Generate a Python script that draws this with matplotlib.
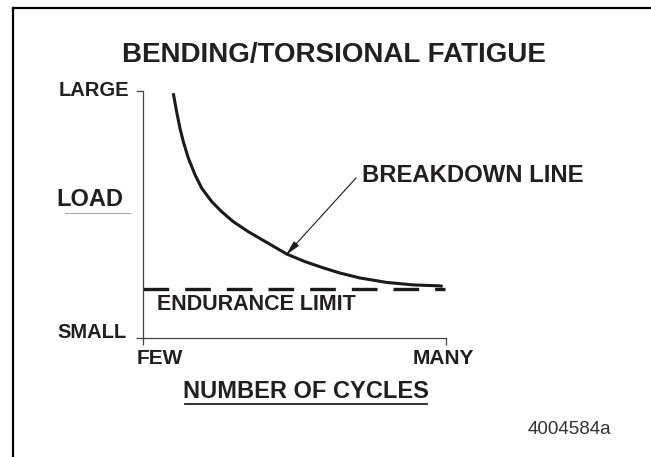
import matplotlib
matplotlib.use("Agg")
import matplotlib.pyplot as plt
from matplotlib.lines import Line2D

plt.rcParams['font.family'] = ['Liberation Sans', 'DejaVu Sans']
plt.rcParams['lines.scale_dashes'] = False

# data (0 = few/small, 1 = many/large)
curve_x = [0.100, 0.111, 0.122, 0.133, 0.150, 0.172, 0.194, 0.227, 0.260, 0.298,
           0.348, 0.414, 0.474, 0.535, 0.595, 0.650, 0.716, 0.804, 0.892, 0.980, 0.989]
curve_y = [0.991, 0.916, 0.849, 0.795, 0.727, 0.660, 0.606, 0.552, 0.511, 0.471,
           0.430, 0.383, 0.340, 0.309, 0.284, 0.263, 0.243, 0.225, 0.215, 0.211, 0.209]
endurance_limit = 0.198
endurance_x = [0.0, 0.997]
x_ticks = [0, 1]
x_tick_labels = ["FEW", "MANY"]
y_ticks = [0, 1]
y_tick_labels = ["SMALL", "LARGE"]

W, H = 651, 457
fig = plt.figure(figsize=(W / 100, H / 100), dpi=100)

def fx(px):
    return px / W

def fy(py):
    return 1 - py / H

ax = fig.add_axes([fx(143), fy(338), fx(446) - fx(143), fy(91) - fy(338)])
ax.set_xlim(0, 1)
ax.set_ylim(0, 1)
for s in ["top", "right"]:
    ax.spines[s].set_visible(False)
for s in ["left", "bottom"]:
    ax.spines[s].set_linewidth(0.9)
    ax.spines[s].set_color("#444444")
ax.set_xticks(x_ticks)
ax.set_yticks(y_ticks)
ax.set_xticklabels([])
ax.set_yticklabels([])
ax.tick_params(length=5, width=0.9, color="#444444")

ax.plot(curve_x, curve_y, color="#1a1a1a", lw=2.2, solid_capstyle="butt",
        solid_joinstyle="round", clip_on=False)
ax.plot(endurance_x, [endurance_limit, endurance_limit], color="#1a1a1a", lw=2.4,
        dashes=(18.5, 11.5), clip_on=False)

ax.annotate("", xy=(fx(286), fy(255)), xycoords="figure fraction",
            xytext=(fx(356), fy(178)), textcoords="figure fraction",
            arrowprops=dict(arrowstyle="-|>,head_length=0.9,head_width=0.2",
                            color="#1a1a1a", lw=0.8, shrinkA=0, shrinkB=0))

bold = dict(fontweight="bold", color="#231f20")
fig.text(fx(334), fy(55), "BENDING/TORSIONAL FATIGUE", ha="center", va="center", fontsize=20, **bold)
fig.text(fx(129), fy(90), y_tick_labels[1], ha="right", va="center", fontsize=14.5, **bold)
fig.text(fx(127), fy(333), y_tick_labels[0], ha="right", va="center", fontsize=14.5, **bold)
fig.text(fx(90), fy(200), "LOAD", ha="center", va="center", fontsize=17, **bold)
fig.add_artist(Line2D([fx(65), fx(130)], [fy(213), fy(213)], color="#aaaaaa", lw=0.8))
fig.text(fx(160), fy(358), x_tick_labels[0], ha="center", va="center", fontsize=15, **bold)
fig.text(fx(443), fy(358), x_tick_labels[1], ha="center", va="center", fontsize=15, **bold)
fig.text(fx(306), fy(391), "NUMBER OF CYCLES", ha="center", va="center", fontsize=17, **bold)
fig.add_artist(Line2D([fx(185), fx(427)], [fy(404), fy(404)], color="#231f20", lw=1.3))
fig.text(fx(362), fy(176), "BREAKDOWN LINE", ha="left", va="center", fontsize=17.2, **bold)
fig.text(fx(157), fy(305), "ENDURANCE LIMIT", ha="left", va="center", fontsize=15.5, **bold)
fig.text(fx(569), fy(430), "4004584a", ha="center", va="center", fontsize=13.5, color="#333333")

# frame
fig.add_artist(Line2D([fx(12.5), fx(12.5)], [fy(7.5), 0], color="black", lw=1.6))
fig.add_artist(Line2D([fx(12.5), 1], [fy(7.5), fy(7.5)], color="black", lw=1.6))

fig.savefig("out.png", dpi=100)
